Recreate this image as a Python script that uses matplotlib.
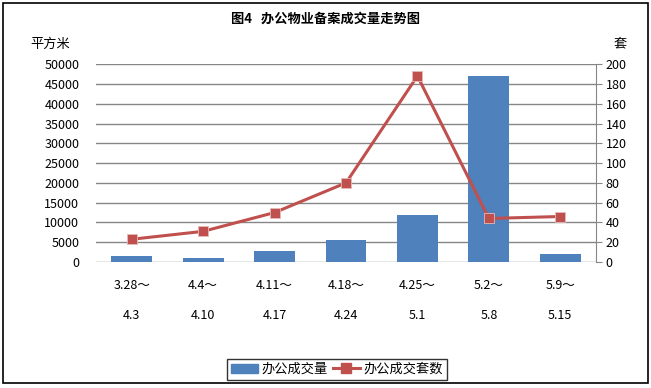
import numpy as np
import matplotlib.pyplot as plt
from matplotlib.patches import Rectangle, Patch
from matplotlib.lines import Line2D

plt.rcParams['font.family'] = ['Noto Sans CJK SC', 'DejaVu Sans']
plt.rcParams['font.size'] = 9

# 数据
periods = ['3.28～\n\n4.3', '4.4～\n\n4.10', '4.11～\n\n4.17', '4.18～\n\n4.24',
           '4.25～\n\n5.1', '5.2～\n\n5.8', '5.9～\n\n5.15']
area = [1400, 1100, 2900, 5500, 11900, 47100, 1900]      # 办公成交量（平方米）
units = [23, 31, 50, 80, 188, 44, 46]                   # 办公成交套数（套）

bar_color = '#4F81BD'
line_color = '#C0504D'

fig = plt.figure(figsize=(6.51, 3.88), dpi=100)
ax = fig.add_axes([0.1475, 0.3247, 0.768, 0.510])
ax2 = ax.twinx()

x = np.arange(len(periods))
ax.bar(x, area, width=0.57, color=bar_color, zorder=2)
ax2.plot(x, units, color=line_color, linewidth=2.2, marker='s', markersize=7,
         markerfacecolor=line_color, markeredgecolor='#E6B9B8', markeredgewidth=0.6, zorder=3)

ax.set_xlim(-0.5, len(periods) - 0.5)
ax.set_ylim(0, 50000)
ax.set_yticks(np.arange(0, 50001, 5000))
ax2.set_ylim(0, 200)
ax2.set_yticks(np.arange(0, 201, 20))
ax.set_xticks(x)
ax.set_xticklabels(periods, linespacing=1.2)

ax.grid(axis='y', color='#868686', linewidth=1, zorder=0)
ax.set_axisbelow(True)
for a in (ax, ax2):
    for s in ('top', 'left', 'bottom', 'right'):
        a.spines[s].set_visible(False)
ax2.spines['right'].set_visible(True)
ax2.spines['right'].set_color('#868686')
ax.tick_params(axis='y', length=0, pad=12)
ax.tick_params(axis='x', length=0, pad=12)
ax2.tick_params(axis='y', length=4, color='#868686', pad=3)

fig.text(0.5, 0.953, '图4   办公物业备案成交量走势图', ha='center', va='center',
         fontsize=9.5, fontweight='bold')
fig.text(0.047, 0.886, '平方米', ha='left', va='center', fontsize=9.5)
fig.text(0.943, 0.886, '套', ha='left', va='center', fontsize=9.5)

handles = [Patch(color=bar_color),
           Line2D([], [], color=line_color, linewidth=2.2, marker='s', markersize=7)]
leg = fig.legend(handles, ['办公成交量', '办公成交套数'], loc='center',
                 bbox_to_anchor=(0.518, 0.048), ncol=2, frameon=True, fancybox=False,
                 edgecolor='black', fontsize=9.5, handlelength=2.0,
                 columnspacing=0.4, handletextpad=0.3, borderpad=0.3)
leg.get_frame().set_linewidth(1)

fig.patches.append(Rectangle((0.005, 0.013), 0.99, 0.98, transform=fig.transFigure,
                             fill=False, edgecolor='black', linewidth=1.2))

fig.savefig('out.png', dpi=100)
